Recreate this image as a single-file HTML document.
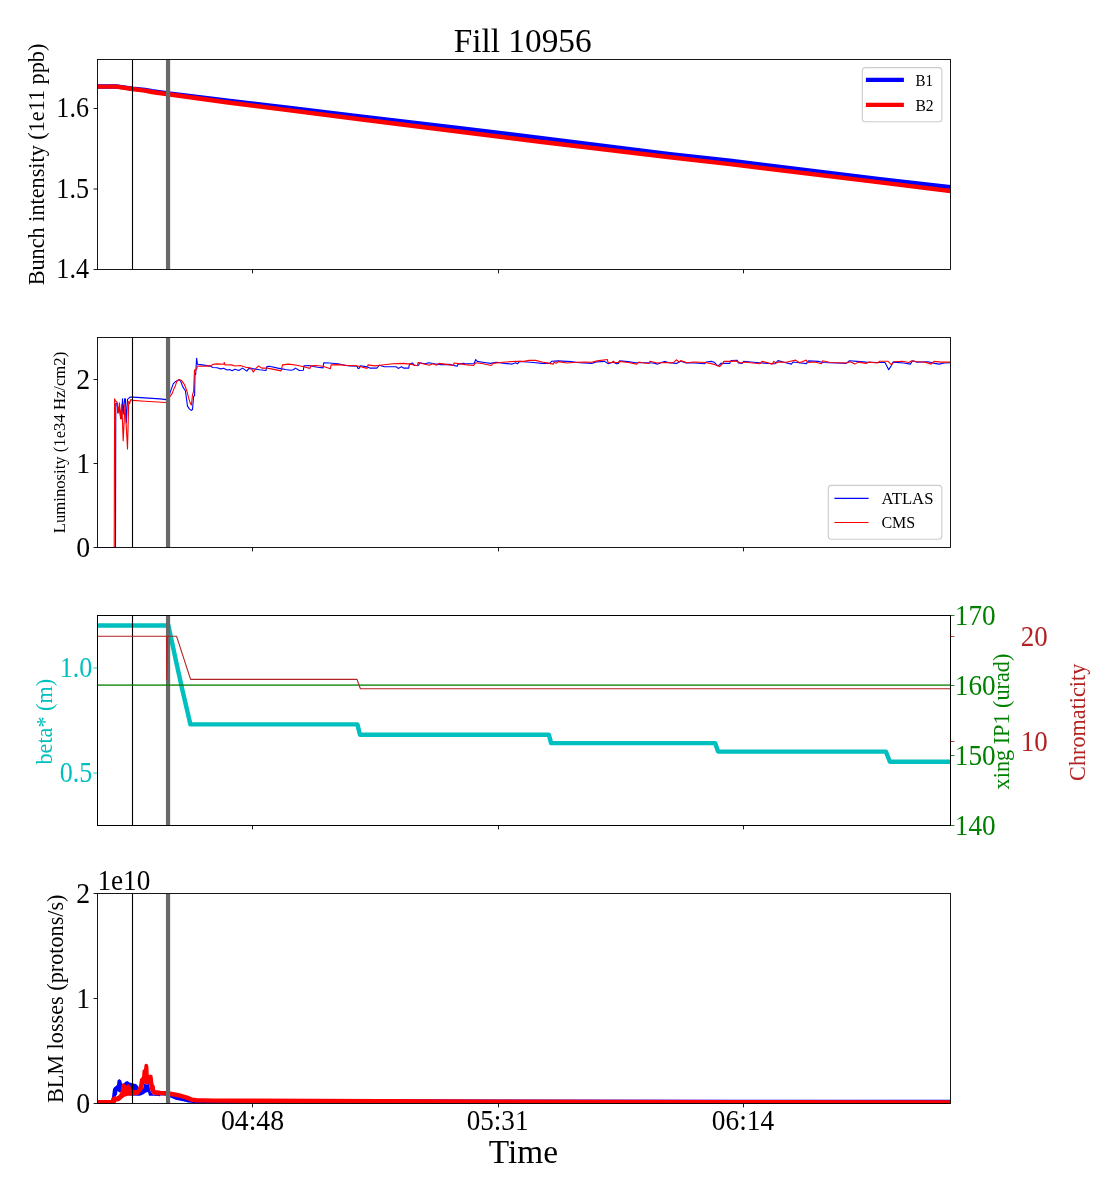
<!DOCTYPE html>
<html><head><meta charset="utf-8"><title>Fill 10956</title>
<style>html,body{margin:0;padding:0;background:#fff;}svg{display:block;will-change:transform;}text{font-family:"Liberation Serif",serif;}</style>
</head><body>
<svg width="1120" height="1200" viewBox="0 0 1120 1200">
<rect x="0" y="0" width="1120" height="1200" fill="#fff"/>
<defs>
<clipPath id="c0"><rect x="97.50" y="59.50" width="853.00" height="210.00"/></clipPath>
<clipPath id="c1"><rect x="97.50" y="337.50" width="853.00" height="210.00"/></clipPath>
<clipPath id="c2"><rect x="97.50" y="615.50" width="853.00" height="210.00"/></clipPath>
<clipPath id="c3"><rect x="97.50" y="893.50" width="853.00" height="210.00"/></clipPath>
</defs>
<g clip-path="url(#c0)">
<polyline points="97.50,86.50 116.40,86.40 132.40,88.60 145.00,90.00 152.00,91.30 166.40,93.10 230.00,101.00 290.00,108.00 360.00,116.40 460.00,128.30 540.00,137.90 670.00,154.10 730.00,160.70 880.00,179.10 950.50,187.20" fill="none" stroke="#0000ff" stroke-width="4.44" stroke-linejoin="round" stroke-linecap="butt" />
<polyline points="97.50,86.60 116.40,86.60 132.40,89.00 145.00,90.60 152.00,92.00 166.40,94.00 230.00,102.70 290.00,110.35 360.00,119.20 460.00,131.70 540.00,141.70 670.00,157.30 730.00,164.10 880.00,182.40 950.50,191.00" fill="none" stroke="#ff0000" stroke-width="4.44" stroke-linejoin="round" stroke-linecap="butt" />
<line x1="132.50" y1="59.50" x2="132.50" y2="269.50" stroke="#000" stroke-width="1.11" />
<line x1="168.05" y1="59.50" x2="168.05" y2="269.50" stroke="#696969" stroke-width="4.2" />
</g>
<rect x="97.50" y="59.50" width="853.00" height="210.00" fill="none" stroke="#000" stroke-width="0.9"/>
<line x1="252.50" y1="269.50" x2="252.50" y2="273.40" stroke="#000" stroke-width="0.9" />
<line x1="498.50" y1="269.50" x2="498.50" y2="273.40" stroke="#000" stroke-width="0.9" />
<line x1="743.50" y1="269.50" x2="743.50" y2="273.40" stroke="#000" stroke-width="0.9" />
<line x1="93.60" y1="269.50" x2="97.50" y2="269.50" stroke="#000" stroke-width="0.9" />
<text transform="translate(89.00 278.00) scale(0.940 1.050)" font-size="27.78px" fill="#000" text-anchor="end">1.4</text>
<line x1="93.60" y1="189.00" x2="97.50" y2="189.00" stroke="#000" stroke-width="0.9" />
<text transform="translate(89.00 197.50) scale(0.940 1.050)" font-size="27.78px" fill="#000" text-anchor="end">1.5</text>
<line x1="93.60" y1="108.50" x2="97.50" y2="108.50" stroke="#000" stroke-width="0.9" />
<text transform="translate(89.00 117.00) scale(0.940 1.050)" font-size="27.78px" fill="#000" text-anchor="end">1.6</text>
<text x="44.00" y="164.50" font-size="22.22px" fill="#000" text-anchor="middle" transform="rotate(-90 44.00 164.50)" >Bunch intensity (1e11 ppb)</text>
<text x="522.70" y="52.30" font-size="33.33px" fill="#000" text-anchor="middle" >Fill 10956</text>
<rect x="862.3" y="67.6" width="79.6" height="54.2" rx="3.3" ry="3.3" fill="#fff" fill-opacity="0.8" stroke="#cccccc" stroke-width="1.11"/>
<line x1="865.90" y1="79.90" x2="903.90" y2="79.90" stroke="#0000ff" stroke-width="4.44" />
<line x1="865.90" y1="104.90" x2="903.90" y2="104.90" stroke="#ff0000" stroke-width="4.44" />
<text transform="translate(915.40 85.80) scale(0.900 1.040)" font-size="16.67px" fill="#000" text-anchor="start">B1</text>
<text transform="translate(915.40 110.80) scale(0.940 1.040)" font-size="16.67px" fill="#000" text-anchor="start">B2</text>
<g clip-path="url(#c1)">
<polyline points="97.50,547.50 115.50,547.50 115.80,403.20 117.10,403.20 117.90,412.90 119.30,407.10 120.70,418.60 121.40,418.60 122.50,398.90 123.20,414.30 124.60,398.70 125.40,398.70 126.30,422.90 127.50,399.30 130.00,397.10 133.00,397.10 160.00,398.90 166.00,399.60 170.00,392.90 173.20,383.90 175.70,381.40 179.30,379.60 180.70,381.40 182.90,387.10 185.40,390.70 187.50,406.10 189.30,408.90 191.10,410.40 192.50,409.60 193.60,396.40 194.60,395.70 195.00,373.60 195.70,374.30 196.60,358.20 197.50,364.30 200.70,364.60 210.00,366.10 212.90,367.50 217.10,367.70 220.70,368.90 223.60,368.20 227.10,370.00 229.60,369.60 232.10,370.70 235.00,369.30 238.75,370.50 242.50,368.10 246.80,371.10 248.90,368.40 253.75,368.90 259.60,369.80 266.10,370.50 266.80,366.60 269.30,366.25 277.90,368.10 282.10,368.90 285.40,369.50 290.70,370.20 293.40,369.80 295.50,368.10 299.30,370.50 303.40,370.20 303.90,365.90 308.90,365.50 312.10,366.25 317.50,367.30 323.10,367.90 323.70,362.70 329.30,363.00 337.90,363.80 347.50,365.70 350.00,365.90 357.00,366.25 358.00,368.40 359.40,368.10 360.20,365.70 366.10,366.60 369.80,368.10 376.80,368.10 379.50,365.20 384.30,366.80 396.10,366.80 398.20,368.40 401.40,366.80 403.60,368.10 408.70,368.10 409.50,364.10 412.70,363.00 414.30,365.50 418.60,365.20 419.60,362.70 425.00,363.80 428.75,362.70 434.60,363.80 441.10,364.60 449.60,364.40 457.10,366.25 458.20,364.10 463.60,363.40 465.00,363.80 474.10,363.80 475.70,359.50 477.30,361.40 484.30,362.50 490.70,363.40 496.10,362.30 504.60,363.40 512.10,364.10 515.40,362.70 517.50,363.80 519.60,361.40 527.10,362.00 533.60,362.50 542.10,363.40 549.60,363.40 551.80,361.20 558.20,360.90 571.10,361.60 577.50,362.50 580.00,362.70 591.80,363.40 596.10,362.00 604.60,361.40 608.40,363.80 613.20,362.00 616.40,363.80 618.60,363.40 619.60,360.90 628.20,361.60 635.70,362.70 646.40,362.70 652.90,363.00 657.70,364.10 661.40,362.50 665.20,361.40 668.90,362.70 676.40,363.40 680.70,361.20 686.10,363.00 695.00,363.00 704.60,363.80 706.25,362.00 711.10,361.40 714.30,362.30 717.50,365.70 719.60,364.90 720.70,363.40 729.80,363.40 730.90,360.60 737.30,360.40 738.40,363.00 742.10,363.40 743.75,361.40 750.70,362.00 759.30,362.70 767.90,363.40 774.80,363.80 778.00,360.60 783.90,362.30 791.40,364.10 793.00,362.00 798.90,362.70 806.40,363.60 808.60,360.90 818.00,361.40 823.40,362.50 836.80,363.00 846.20,363.40 849.50,360.80 856.90,361.40 866.20,362.10 877.00,362.50 885.00,362.50 888.70,369.70 891.00,366.10 893.00,362.10 903.75,363.00 910.40,364.10 912.50,360.80 917.10,362.10 927.90,361.70 934.60,363.40 939.20,364.10 943.90,363.00 950.50,362.80" fill="none" stroke="#0000ff" stroke-width="1.11" stroke-linejoin="round" stroke-linecap="butt" />
<polyline points="114.20,547.50 114.60,398.90 115.60,401.00 117.10,402.10 118.20,412.90 119.40,402.90 120.70,418.60 121.80,404.30 123.20,440.70 125.00,404.30 127.50,448.90 128.70,401.40 129.60,403.60 130.70,399.60 132.50,400.40 145.00,401.30 166.00,402.50 170.00,396.40 172.10,393.60 174.30,387.90 175.40,385.70 176.80,381.40 179.30,379.50 181.40,380.40 184.30,384.30 186.80,390.70 188.60,397.90 190.40,403.60 191.40,405.00 192.50,395.00 193.60,391.40 194.50,370.00 196.40,369.60 197.50,366.10 202.90,366.30 210.00,365.90 212.90,364.40 217.10,363.90 223.60,364.30 224.30,362.50 225.00,365.00 231.40,364.90 235.00,366.00 240.40,365.50 245.70,367.30 251.10,368.10 253.20,372.10 256.40,367.90 258.60,366.00 261.80,368.10 267.10,368.10 272.50,369.10 281.10,370.90 282.50,364.90 288.60,364.10 297.10,365.20 303.60,366.80 310.00,368.40 310.90,365.70 316.40,365.50 322.90,366.30 330.40,368.70 331.10,364.90 337.90,364.60 347.50,365.50 350.00,365.50 356.40,365.70 360.70,366.80 367.10,368.40 368.00,364.90 374.60,365.90 380.00,365.20 392.90,363.80 403.60,363.40 410.00,364.10 417.50,365.70 418.00,362.50 422.90,363.80 429.30,365.20 432.50,363.80 436.80,365.20 438.90,363.40 446.40,364.40 453.40,365.50 454.10,363.00 462.50,364.10 465.00,364.60 473.60,365.50 475.70,362.70 483.20,363.80 491.25,365.50 493.10,363.40 502.50,362.30 516.40,361.20 523.90,361.40 529.30,360.40 535.70,360.40 542.10,362.00 549.60,363.40 553.40,364.10 554.10,362.00 556.10,363.40 558.20,361.60 566.80,363.00 577.50,362.30 585.00,362.00 591.80,362.30 597.10,360.90 607.30,359.50 608.10,362.70 612.10,362.50 613.40,361.20 614.80,362.50 618.00,362.50 619.10,361.40 628.20,362.50 636.80,364.10 638.70,362.00 644.30,363.00 649.10,363.40 649.90,361.20 657.10,363.00 665.70,362.50 673.20,362.70 676.40,359.80 679.10,362.00 680.70,360.60 687.10,362.70 693.60,362.00 700.00,362.30 705.70,362.50 714.30,364.40 719.60,366.60 723.10,363.00 723.70,361.40 730.40,361.40 735.70,360.90 741.10,363.00 744.30,362.00 752.90,363.00 759.80,363.80 762.00,361.40 767.90,362.70 772.10,364.10 773.75,361.40 776.40,363.00 778.00,362.00 786.10,362.30 795.70,360.10 799.50,362.70 806.40,360.10 807.30,362.50 815.00,362.00 821.40,363.80 822.70,360.80 830.10,362.50 846.20,363.00 850.20,361.70 854.90,364.10 858.20,362.10 866.20,363.40 868.90,362.10 877.60,363.00 879.60,361.20 887.70,361.20 891.70,364.80 893.70,361.70 902.40,361.20 909.10,362.50 911.80,360.80 917.10,361.70 925.20,362.10 931.20,364.10 933.90,361.40 941.20,362.10 950.50,362.10" fill="none" stroke="#ff0000" stroke-width="1.11" stroke-linejoin="round" stroke-linecap="butt" />
<line x1="132.50" y1="337.50" x2="132.50" y2="547.50" stroke="#000" stroke-width="1.11" />
<line x1="168.05" y1="337.50" x2="168.05" y2="547.50" stroke="#696969" stroke-width="4.2" />
</g>
<rect x="97.50" y="337.50" width="853.00" height="210.00" fill="none" stroke="#000" stroke-width="0.9"/>
<line x1="252.50" y1="547.50" x2="252.50" y2="551.40" stroke="#000" stroke-width="0.9" />
<line x1="498.50" y1="547.50" x2="498.50" y2="551.40" stroke="#000" stroke-width="0.9" />
<line x1="743.50" y1="547.50" x2="743.50" y2="551.40" stroke="#000" stroke-width="0.9" />
<line x1="93.60" y1="547.50" x2="97.50" y2="547.50" stroke="#000" stroke-width="0.9" />
<text transform="translate(90.20 556.80) scale(1.000 1.050)" font-size="27.78px" fill="#000" text-anchor="end">0</text>
<line x1="93.60" y1="463.50" x2="97.50" y2="463.50" stroke="#000" stroke-width="0.9" />
<text transform="translate(90.20 472.80) scale(1.000 1.050)" font-size="27.78px" fill="#000" text-anchor="end">1</text>
<line x1="93.60" y1="379.50" x2="97.50" y2="379.50" stroke="#000" stroke-width="0.9" />
<text transform="translate(90.20 388.80) scale(1.000 1.050)" font-size="27.78px" fill="#000" text-anchor="end">2</text>
<text x="64.80" y="442.50" font-size="16.67px" fill="#000" text-anchor="middle" transform="rotate(-90 64.80 442.50)" >Luminosity (1e34 Hz/cm2)</text>
<rect x="828.3" y="485.4" width="113.5" height="53.9" rx="3.3" ry="3.3" fill="#fff" fill-opacity="0.8" stroke="#cccccc" stroke-width="1.11"/>
<line x1="834.40" y1="498.40" x2="868.60" y2="498.40" stroke="#0000ff" stroke-width="1.11" />
<line x1="834.40" y1="522.50" x2="868.60" y2="522.50" stroke="#ff0000" stroke-width="1.11" />
<text x="881.60" y="503.90" font-size="16.67px" fill="#000" text-anchor="start" >ATLAS</text>
<text transform="translate(881.40 528.00) scale(0.960 1.000)" font-size="16.67px" fill="#000" text-anchor="start">CMS</text>
<g clip-path="url(#c2)">
<polyline points="97.50,625.50 168.40,625.50 176.00,661.00 182.50,690.50 189.00,718.30 190.40,724.40 357.40,724.40 360.00,734.70 548.90,734.70 551.10,743.10 715.10,743.10 718.10,751.60 885.90,751.60 889.90,761.80 950.50,761.80" fill="none" stroke="#00bfbf" stroke-width="4.44" stroke-linejoin="round" stroke-linecap="butt" />
<line x1="132.50" y1="615.50" x2="132.50" y2="825.50" stroke="#000" stroke-width="1.11" />
<line x1="168.05" y1="615.50" x2="168.05" y2="825.50" stroke="#696969" stroke-width="4.2" />
</g>
<rect x="97.50" y="615.50" width="853.00" height="210.00" fill="none" stroke="#000" stroke-width="0.9"/>
<line x1="252.50" y1="825.50" x2="252.50" y2="829.40" stroke="#000" stroke-width="0.9" />
<line x1="498.50" y1="825.50" x2="498.50" y2="829.40" stroke="#000" stroke-width="0.9" />
<line x1="743.50" y1="825.50" x2="743.50" y2="829.40" stroke="#000" stroke-width="0.9" />
<line x1="93.60" y1="668.00" x2="97.50" y2="668.00" stroke="#00bfbf" stroke-width="0.9" />
<text transform="translate(92.30 676.60) scale(0.940 1.050)" font-size="27.78px" fill="#00bfbf" text-anchor="end">1.0</text>
<line x1="93.60" y1="773.00" x2="97.50" y2="773.00" stroke="#00bfbf" stroke-width="0.9" />
<text transform="translate(92.30 781.60) scale(0.940 1.050)" font-size="27.78px" fill="#00bfbf" text-anchor="end">0.5</text>
<text x="52.00" y="721.70" font-size="22.22px" fill="#00bfbf" text-anchor="middle" transform="rotate(-90 52.00 721.70)" >beta* (m)</text>
<g clip-path="url(#c2)">
<line x1="97.50" y1="685.20" x2="950.50" y2="685.20" stroke="#008000" stroke-width="1.67" stroke-opacity="0.75"/>
</g>
<rect x="97.50" y="615.50" width="853.00" height="210.00" fill="none" stroke="#000" stroke-width="0.9"/>
<line x1="950.50" y1="615.50" x2="954.40" y2="615.50" stroke="#008000" stroke-width="0.9" />
<text transform="translate(954.80 624.80) scale(0.980 1.050)" font-size="27.78px" fill="#008000" text-anchor="start">170</text>
<line x1="950.50" y1="685.50" x2="954.40" y2="685.50" stroke="#008000" stroke-width="0.9" />
<text transform="translate(954.80 694.80) scale(0.980 1.050)" font-size="27.78px" fill="#008000" text-anchor="start">160</text>
<line x1="950.50" y1="755.50" x2="954.40" y2="755.50" stroke="#008000" stroke-width="0.9" />
<text transform="translate(954.80 764.80) scale(0.980 1.050)" font-size="27.78px" fill="#008000" text-anchor="start">150</text>
<line x1="950.50" y1="825.50" x2="954.40" y2="825.50" stroke="#008000" stroke-width="0.9" />
<text transform="translate(954.80 834.80) scale(0.980 1.050)" font-size="27.78px" fill="#008000" text-anchor="start">140</text>
<text x="1008.80" y="721.50" font-size="22.22px" fill="#008000" text-anchor="middle" transform="rotate(-90 1008.80 721.50)" >xing IP1 (urad)</text>
<g clip-path="url(#c2)">
<polyline points="97.50,636.20 166.50,636.20 166.80,679.30 167.30,636.20 176.50,636.20 190.60,679.40 357.00,679.40 360.40,688.70 950.50,688.70" fill="none" stroke="#b22222" stroke-width="1.11" stroke-linejoin="round" stroke-linecap="butt" />
</g>
<rect x="97.50" y="615.50" width="853.00" height="210.00" fill="none" stroke="#000" stroke-width="0.9"/>
<line x1="950.50" y1="636.50" x2="954.40" y2="636.50" stroke="#b22222" stroke-width="0.9" />
<text transform="translate(1020.80 645.90) scale(0.970 1.050)" font-size="27.78px" fill="#b22222" text-anchor="start">20</text>
<line x1="950.50" y1="741.50" x2="954.40" y2="741.50" stroke="#b22222" stroke-width="0.9" />
<text transform="translate(1020.80 750.90) scale(0.970 1.050)" font-size="27.78px" fill="#b22222" text-anchor="start">10</text>
<text x="1085.00" y="722.30" font-size="22.22px" fill="#b22222" text-anchor="middle" transform="rotate(-90 1085.00 722.30)" >Chromaticity</text>
<g clip-path="url(#c3)">
<polyline points="97.50,1102.40 111.50,1102.40" fill="none" stroke="#0000ff" stroke-width="4.44" stroke-linejoin="round" stroke-linecap="butt" />
<polyline points="155.00,1093.20 165.70,1093.40 170.20,1094.90 176.00,1097.50 183.60,1099.10 187.90,1100.20 196.00,1101.00 250.00,1101.30 500.00,1101.60 740.00,1101.90 950.50,1102.00" fill="none" stroke="#0000ff" stroke-width="4.44" stroke-linejoin="round" stroke-linecap="butt" />
<polygon points="108.00,1100.20 111.00,1100.20 112.00,1097.00 113.00,1089.00 114.50,1087.00 117.00,1085.00 117.50,1080.50 119.25,1079.00 121.25,1080.50 122.00,1083.50 123.50,1084.00 125.00,1082.00 127.25,1081.00 129.50,1082.50 132.00,1083.25 136.00,1084.00 138.00,1086.00 140.00,1090.00 143.00,1089.00 144.25,1083.50 146.50,1084.50 149.00,1084.00 150.00,1089.00 151.00,1092.00 153.00,1094.50 158.00,1094.80 160.00,1095.00 160.00,1096.30 156.50,1095.75 149.00,1095.75 148.00,1092.00 146.00,1092.50 143.00,1094.50 140.00,1095.75 137.00,1095.75 130.00,1095.50 124.00,1094.00 121.00,1092.00 119.50,1092.50 117.50,1091.00 117.00,1094.50 115.50,1096.50 115.00,1104.00 108.00,1104.00" fill="#0000ff"/>
<polyline points="97.50,1102.20 111.50,1102.20" fill="none" stroke="#ff0000" stroke-width="4.44" stroke-linejoin="round" stroke-linecap="butt" />
<polyline points="157.00,1092.90 159.30,1092.90 165.70,1093.40 170.20,1093.80 178.20,1095.20 186.80,1097.60 192.10,1099.80 196.40,1100.30 213.60,1100.60 252.00,1100.70 380.00,1101.20 498.00,1101.60 620.00,1101.95 740.00,1102.20 950.50,1102.40" fill="none" stroke="#ff0000" stroke-width="4.44" stroke-linejoin="round" stroke-linecap="butt" />
<polygon points="108.00,1100.00 111.00,1100.00 112.50,1097.00 114.00,1096.25 116.00,1096.75 119.00,1095.00 120.50,1092.00 121.50,1085.00 123.50,1083.00 125.00,1084.00 126.25,1085.75 128.00,1084.00 130.00,1085.00 131.50,1089.25 133.00,1090.00 137.00,1090.00 139.00,1086.00 140.00,1079.00 142.00,1077.00 142.50,1070.50 144.00,1069.00 144.50,1065.00 145.20,1064.00 146.50,1063.80 147.80,1064.50 148.40,1066.50 148.75,1075.00 150.50,1074.50 152.50,1075.50 153.50,1084.00 154.75,1086.00 155.25,1090.00 158.00,1090.50 160.00,1090.70 160.00,1095.30 158.00,1095.40 153.00,1094.50 151.00,1092.00 150.00,1089.00 149.00,1084.00 146.50,1084.50 144.25,1083.50 143.00,1089.00 140.50,1092.50 138.00,1095.00 136.00,1095.00 133.00,1095.50 128.00,1095.75 124.50,1096.75 122.00,1098.75 119.50,1101.00 116.00,1101.75 115.50,1104.00 108.00,1104.00" fill="#ff0000"/>
<line x1="132.50" y1="893.50" x2="132.50" y2="1103.50" stroke="#000" stroke-width="1.11" />
<line x1="168.05" y1="893.50" x2="168.05" y2="1103.50" stroke="#696969" stroke-width="4.2" />
</g>
<rect x="97.50" y="893.50" width="853.00" height="210.00" fill="none" stroke="#000" stroke-width="0.9"/>
<line x1="252.50" y1="1103.50" x2="252.50" y2="1107.40" stroke="#000" stroke-width="0.9" />
<line x1="498.50" y1="1103.50" x2="498.50" y2="1107.40" stroke="#000" stroke-width="0.9" />
<line x1="743.50" y1="1103.50" x2="743.50" y2="1107.40" stroke="#000" stroke-width="0.9" />
<line x1="93.60" y1="1103.50" x2="97.50" y2="1103.50" stroke="#000" stroke-width="0.9" />
<text transform="translate(90.20 1112.80) scale(1.000 1.050)" font-size="27.78px" fill="#000" text-anchor="end">0</text>
<line x1="93.60" y1="998.50" x2="97.50" y2="998.50" stroke="#000" stroke-width="0.9" />
<text transform="translate(90.20 1007.80) scale(1.000 1.050)" font-size="27.78px" fill="#000" text-anchor="end">1</text>
<line x1="93.60" y1="893.50" x2="97.50" y2="893.50" stroke="#000" stroke-width="0.9" />
<text transform="translate(90.20 902.80) scale(1.000 1.050)" font-size="27.78px" fill="#000" text-anchor="end">2</text>
<text x="63.20" y="998.80" font-size="22.22px" fill="#000" text-anchor="middle" transform="rotate(-90 63.20 998.80)" >BLM losses (protons/s)</text>
<text transform="translate(97.40 889.70) scale(0.980 1.050)" font-size="27.78px" fill="#000" text-anchor="start">1e10</text>
<text transform="translate(252.50 1130.10) scale(1.000 1.050)" font-size="27.78px" fill="#000" text-anchor="middle">04:48</text>
<text transform="translate(497.60 1130.10) scale(0.975 1.050)" font-size="27.78px" fill="#000" text-anchor="middle">05:31</text>
<text transform="translate(743.00 1130.10) scale(0.985 1.050)" font-size="27.78px" fill="#000" text-anchor="middle">06:14</text>
<text x="523.40" y="1163.00" font-size="33.33px" fill="#000" text-anchor="middle" >Time</text>
</svg>
</body></html>
